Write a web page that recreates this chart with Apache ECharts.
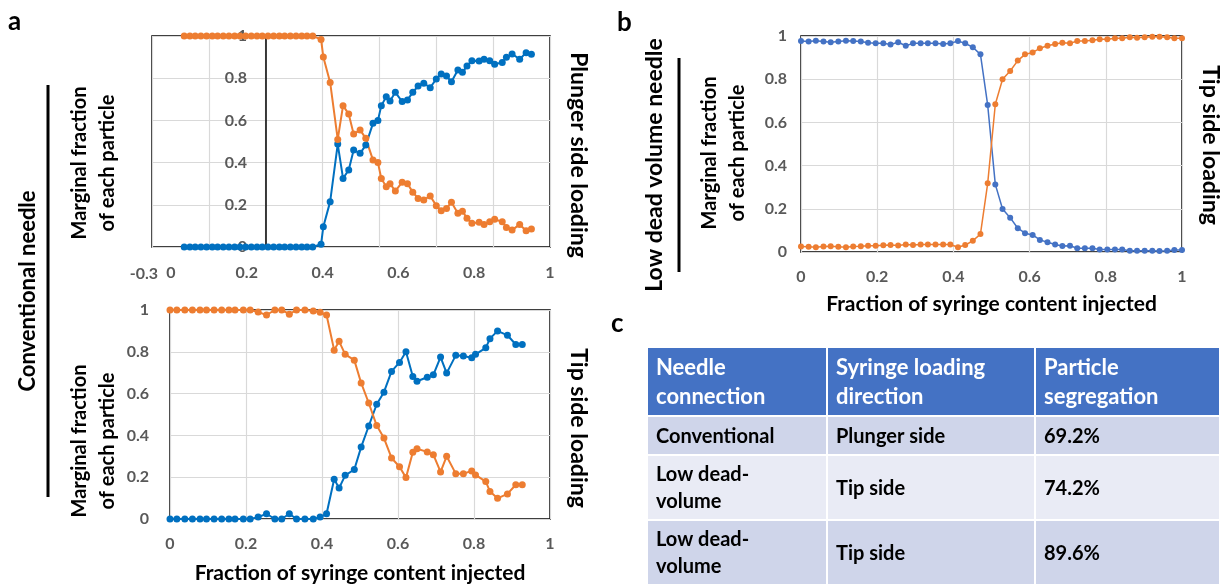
<!DOCTYPE html>
<html>
<head>
<meta charset="utf-8">
<script src="https://cdn.jsdelivr.net/npm/echarts@6/dist/echarts.min.js"></script>
<style>
  html, body { margin: 0; padding: 0; background: #fff; }
  #chart { width: 1225px; height: 585px; }
</style>
</head>
<body>
<div id="chart"></div>
<script>
// panel a, top: conventional needle, plunger side loading
const xTopA = [0.035, 0.050, 0.064, 0.079, 0.094, 0.109, 0.123, 0.138, 0.153, 0.168, 0.182, 0.197,
  0.212, 0.227, 0.241, 0.256, 0.271, 0.286, 0.300, 0.315, 0.330, 0.345, 0.359, 0.374,
  0.396, 0.402, 0.420, 0.440, 0.454, 0.469, 0.482, 0.499, 0.514, 0.533, 0.546, 0.555, 0.568,
  0.578, 0.592, 0.610, 0.624, 0.638, 0.652, 0.667, 0.684, 0.700, 0.713, 0.727, 0.740, 0.757,
  0.769, 0.781, 0.794, 0.813, 0.826, 0.841, 0.854, 0.874, 0.885, 0.900, 0.920, 0.937, 0.951];
const blueTopA = [0, 0, 0, 0, 0, 0, 0, 0, 0, 0, 0, 0, 0, 0, 0, 0, 0, 0, 0, 0, 0, 0, 0, 0,
  0.013, 0.096, 0.215, 0.488, 0.325, 0.365, 0.46, 0.444, 0.483, 0.586, 0.60, 0.67, 0.712,
  0.692, 0.733, 0.689, 0.697, 0.733, 0.763, 0.776, 0.755, 0.796, 0.82, 0.81, 0.783, 0.839,
  0.828, 0.858, 0.883, 0.882, 0.89, 0.883, 0.866, 0.875, 0.899, 0.915, 0.89, 0.921, 0.913];
const orangeTopA = [1, 1, 1, 1, 1, 1, 1, 1, 1, 1, 1, 1, 1, 1, 1, 1, 1, 1, 1, 1, 1, 1, 1, 1,
  0.984, 0.90, 0.78, 0.51, 0.67, 0.63, 0.535, 0.555, 0.515, 0.412, 0.40, 0.325, 0.286,
  0.30, 0.265, 0.307, 0.30, 0.26, 0.23, 0.223, 0.242, 0.196, 0.172, 0.183, 0.212, 0.16,
  0.17, 0.136, 0.112, 0.117, 0.107, 0.12, 0.131, 0.12, 0.093, 0.08, 0.107, 0.077, 0.085];

// panel a, bottom: conventional needle, tip side loading
const xBottomA = [0.000, 0.018, 0.039, 0.059, 0.079, 0.096, 0.116, 0.136, 0.155, 0.171, 0.193,
  0.211, 0.232, 0.254, 0.276, 0.294, 0.314, 0.333, 0.355, 0.377, 0.395, 0.412, 0.432, 0.445,
  0.461, 0.485, 0.503, 0.523, 0.544, 0.563, 0.583, 0.604, 0.621, 0.639, 0.650, 0.677, 0.693,
  0.712, 0.728, 0.752, 0.772, 0.794, 0.804, 0.831, 0.842, 0.862, 0.888, 0.910, 0.927];
const blueBottomA = [0, 0, 0, 0, 0, 0, 0, 0, 0, 0, 0, 0, 0.009, 0.025, 0, 0, 0.025, 0, 0,
  0, 0.009, 0.025, 0.19, 0.148, 0.209, 0.237, 0.344, 0.445, 0.549, 0.607, 0.706, 0.749, 0.80,
  0.682, 0.659, 0.678, 0.69, 0.775, 0.698, 0.783, 0.78, 0.772, 0.788, 0.819, 0.863, 0.90,
  0.879, 0.835, 0.835];
const orangeBottomA = [1, 1, 1, 1, 1, 1, 1, 1, 1, 1, 1, 1, 0.99, 0.976, 1, 1, 0.98, 1, 1,
  0.995, 0.989, 0.976, 0.808, 0.85, 0.788, 0.76, 0.651, 0.555, 0.447, 0.387, 0.292, 0.25, 0.198,
  0.319, 0.336, 0.321, 0.308, 0.225, 0.30, 0.217, 0.217, 0.23, 0.211, 0.179, 0.132, 0.099,
  0.12, 0.164, 0.164];

// panel b: low dead volume needle, tip side loading
const xB = [0.000, 0.020, 0.039, 0.059, 0.078, 0.098, 0.118, 0.137, 0.157, 0.176, 0.196, 0.216,
  0.235, 0.255, 0.275, 0.294, 0.314, 0.333, 0.353, 0.373, 0.392, 0.412, 0.431, 0.451, 0.471,
  0.490, 0.510, 0.529, 0.549, 0.569, 0.588, 0.608, 0.627, 0.647, 0.667, 0.686, 0.706, 0.725,
  0.745, 0.765, 0.784, 0.804, 0.824, 0.843, 0.863, 0.882, 0.902, 0.922, 0.941, 0.961, 0.980, 1.000];
const blueB = [0.977, 0.974, 0.978, 0.974, 0.971, 0.974, 0.978, 0.977, 0.974, 0.969, 0.966, 0.966,
  0.961, 0.971, 0.955, 0.966, 0.966, 0.966, 0.966, 0.963, 0.966, 0.977, 0.966, 0.948, 0.915,
  0.68, 0.313, 0.199, 0.159, 0.11, 0.087, 0.079, 0.056, 0.045, 0.035, 0.028, 0.029, 0.017,
  0.017, 0.017, 0.012, 0.012, 0.012, 0.012, 0.006, 0.006, 0.006, 0.006, 0.005, 0.006, 0.009, 0.009];
const orangeB = [0.025, 0.024, 0.022, 0.025, 0.027, 0.024, 0.022, 0.025, 0.027, 0.029, 0.029, 0.031,
  0.032, 0.03, 0.035, 0.032, 0.035, 0.035, 0.035, 0.035, 0.035, 0.022, 0.032, 0.052, 0.083,
  0.318, 0.684, 0.80, 0.838, 0.886, 0.915, 0.924, 0.943, 0.955, 0.963, 0.969, 0.966, 0.977,
  0.977, 0.98, 0.985, 0.985, 0.99, 0.99, 0.994, 0.992, 0.994, 0.997, 0.997, 0.994, 0.99, 0.99];

const xTickLabels = [0, 0.2, 0.4, 0.6, 0.8, 1];

// panel c table
const tableHeader = ['Needle\nconnection', 'Syringe loading\ndirection', 'Particle\nsegregation'];
const tableConnection = ['Conventional', 'Low dead-\nvolume', 'Low dead-\nvolume'];
const tableDirection = ['Plunger side', 'Tip side', 'Tip side'];
const tableSegregation = ['69.2%', '74.2%', '89.6%'];

const FONT = 'Lato';
const BLUE_A = '#0070c0';
const BLUE_B = '#4472c4';
const ORANGE = '#ed7d31';

const pair = (xs, ys) => xs.map((x, i) => [x, ys[i]]);

function lineSeries(idx, xs, ys, color, width, size) {
  return {
    type: 'line',
    xAxisIndex: idx,
    yAxisIndex: idx,
    data: pair(xs, ys),
    symbol: 'circle',
    symbolSize: size,
    clip: false,
    lineStyle: { color: color, width: width },
    itemStyle: { color: color },
    emphasis: { disabled: true }
  };
}

const tickLabel = { color: '#595959', fontWeight: 'bold', fontSize: 16, fontFamily: FONT };
const gridLine = { lineStyle: { color: '#d9d9d9', width: 1.2 } };
const axisName = { color: '#000', fontWeight: 'bold', fontSize: 21, fontFamily: FONT };

function title(x, y, text, rot, size) {
  return {
    type: 'text', x: x, y: y, rotation: rot,
    style: {
      text: text, fill: '#000', font: 'bold ' + size + 'px ' + FONT,
      align: 'center', verticalAlign: 'middle', lineHeight: 28
    }
  };
}

// table drawing
const colX = [647, 827, 1035, 1220];
const rowY = [347, 416, 455, 520, 585];
const rowFill = ['#4472c4', '#cfd5ea', '#e9ebf5', '#cfd5ea'];
const tableGraphics = [];
const tableCells = [tableHeader].concat(tableConnection.map((c, i) => [c, tableDirection[i], tableSegregation[i]]));
tableCells.forEach((row, r) => {
  row.forEach((txt, c) => {
    tableGraphics.push({
      type: 'rect',
      shape: { x: colX[c], y: rowY[r], width: colX[c + 1] - colX[c], height: rowY[r + 1] - rowY[r] },
      style: { fill: rowFill[r], stroke: '#fff', lineWidth: 2 }
    });
    tableGraphics.push({
      type: 'text',
      x: colX[c] + 9,
      y: (rowY[r] + rowY[r + 1]) / 2 + 1,
      style: {
        text: txt,
        fill: r === 0 ? '#fff' : '#000',
        font: (r === 0 ? 'bold 22px ' : 'bold 20px ') + FONT,
        align: 'left', verticalAlign: 'middle', lineHeight: r === 0 ? 29 : 27
      }
    });
  });
});

const chart = echarts.init(document.getElementById('chart'));
chart.setOption({
  animation: false,
  backgroundColor: '#fff',
  grid: [
    { left: 152, top: 36, width: 398, height: 211, show: true, borderColor: '#000', borderWidth: 1.5 },
    { left: 170, top: 310, width: 380, height: 212, show: true, borderColor: '#000', borderWidth: 1.5 },
    { left: 801, top: 36, width: 381, height: 216, show: true, borderColor: '#000', borderWidth: 1.5 }
  ],
  xAxis: [
    {
      gridIndex: 0, type: 'value', min: -0.05, max: 1, interval: 0.15,
      axisLine: { show: false }, axisTick: { show: false }, splitLine: gridLine,
      axisLabel: Object.assign({ customValues: xTickLabels, margin: 18 }, tickLabel)
    },
    {
      gridIndex: 1, type: 'value', min: 0, max: 1, interval: 0.2,
      axisLine: { show: false }, axisTick: { show: false }, splitLine: gridLine,
      axisLabel: Object.assign({ margin: 17 }, tickLabel),
      name: 'Fraction of syringe content injected', nameLocation: 'middle', nameGap: 44,
      nameTextStyle: axisName
    },
    {
      gridIndex: 2, type: 'value', min: 0, max: 1, interval: 0.2,
      axisLine: { show: false }, axisTick: { show: false }, splitLine: gridLine,
      axisLabel: Object.assign({ margin: 17 }, tickLabel),
      name: 'Fraction of syringe content injected', nameLocation: 'middle', nameGap: 42,
      nameTextStyle: axisName
    }
  ],
  yAxis: [
    {
      gridIndex: 0, type: 'value', min: 0, max: 1, interval: 0.2, offset: -114,
      axisLine: { show: true, lineStyle: { color: '#000', width: 1.5 } },
      axisTick: { show: false }, splitLine: gridLine,
      axisLabel: Object.assign({ margin: 19 }, tickLabel)
    },
    {
      gridIndex: 1, type: 'value', min: 0, max: 1, interval: 0.2,
      axisLine: { show: false }, axisTick: { show: false }, splitLine: gridLine,
      axisLabel: Object.assign({ margin: 21 }, tickLabel)
    },
    {
      gridIndex: 2, type: 'value', min: 0, max: 1, interval: 0.2,
      axisLine: { show: false }, axisTick: { show: false }, splitLine: gridLine,
      axisLabel: Object.assign({ margin: 14 }, tickLabel)
    }
  ],
  series: [
    lineSeries(0, xTopA, blueTopA, BLUE_A, 2, 7),
    lineSeries(0, xTopA, orangeTopA, ORANGE, 2, 7),
    lineSeries(1, xBottomA, blueBottomA, BLUE_A, 2, 7),
    lineSeries(1, xBottomA, orangeBottomA, ORANGE, 2, 7),
    lineSeries(2, xB, blueB, BLUE_B, 1.5, 6),
    lineSeries(2, xB, orangeB, ORANGE, 1.5, 6)
  ],
  graphic: [
    { type: 'text', x: 8, y: 9, style: { text: 'a', fill: '#000', font: 'bold 26px ' + FONT } },
    { type: 'text', x: 617, y: 10, style: { text: 'b', fill: '#000', font: 'bold 26px ' + FONT } },
    { type: 'text', x: 611, y: 311, style: { text: 'c', fill: '#000', font: 'bold 26px ' + FONT } },
    { type: 'text', x: 158, y: 274, style: { text: '-0.3', fill: '#595959', font: 'bold 16px ' + FONT, align: 'right', verticalAlign: 'middle' } },
    title(28, 291, 'Conventional needle', Math.PI / 2, 22),
    { type: 'line', shape: { x1: 48, y1: 85, x2: 48, y2: 497 }, style: { stroke: '#000', lineWidth: 3 } },
    title(94, 163, 'Marginal fraction\nof each particle', Math.PI / 2, 20),
    title(94, 441, 'Marginal fraction\nof each particle', Math.PI / 2, 20),
    title(578, 155, 'Plunger side loading', -Math.PI / 2, 23),
    title(578, 428, 'Tip side loading', -Math.PI / 2, 23),
    title(655, 165, 'Low dead volume needle', Math.PI / 2, 23),
    { type: 'line', shape: { x1: 679, y1: 58, x2: 679, y2: 272 }, style: { stroke: '#000', lineWidth: 3 } },
    title(724, 153, 'Marginal fraction\nof each particle', Math.PI / 2, 20),
    title(1210, 145, 'Tip side loading', -Math.PI / 2, 23)
  ].concat(tableGraphics)
});
</script>
</body>
</html>
